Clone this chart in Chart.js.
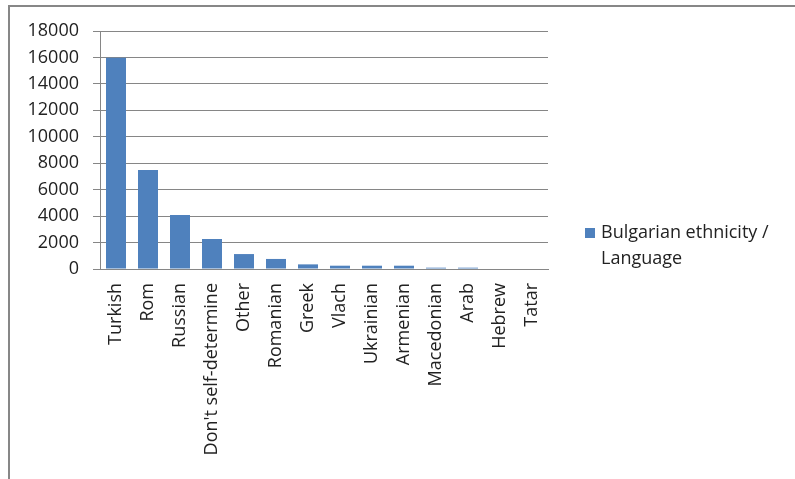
<!DOCTYPE html>
<html>
<head>
<meta charset="utf-8">
<script src="https://cdn.jsdelivr.net/npm/chart.js@4"></script>
<style>
  body { margin: 0; background: #fff; }
  #wrap { position: relative; width: 795px; height: 479px; }
  #frame { position: absolute; left: 8px; top: 5px; right: 0; bottom: 0;
           border-top: 2px solid #878787; border-left: 2px solid #878787; }
  canvas { position: absolute; left: 0; top: 0; }
</style>
</head>
<body>
<div id="wrap">
  <div id="frame"></div>
  <canvas id="myChart" width="795" height="479"></canvas>
</div>
<script>
// chart data
var categories = ['Turkish', 'Rom', 'Russian', "Don't self-determine", 'Other', 'Romanian',
    'Greek', 'Vlach', 'Ukrainian', 'Armenian', 'Macedonian', 'Arab', 'Hebrew', 'Tatar'];
var values = [15980, 7490, 4090, 2270, 1130, 760, 350, 250, 250, 250, 100, 100, 0, 0];
var yTicks = [0, 2000, 4000, 6000, 8000, 10000, 12000, 14000, 16000, 18000];
var seriesName = ['Bulgarian ethnicity /', 'Language'];

var fontFamily = '"Open Sans", sans-serif';

// legend drawn by hand so the label can wrap on two lines
var legendPlugin = {
    id: 'sideLegend',
    afterDraw: function(chart) {
        var ctx = chart.ctx;
        ctx.save();
        ctx.fillStyle = '#4F81BD';
        ctx.fillRect(585, 228, 10, 10);
        ctx.fillStyle = '#222';
        ctx.font = '18px ' + fontFamily;
        ctx.textBaseline = 'middle';
        ctx.fillText(seriesName[0], 601, 233);
        ctx.fillText(seriesName[1], 601, 259);
        ctx.restore();
    }
};

var ctx = document.getElementById('myChart').getContext('2d');
var myChart = new Chart(ctx, {
    type: 'bar',
    data: {
        labels: categories,
        datasets: [{
            label: seriesName.join(' '),
            data: values,
            backgroundColor: '#4F81BD',
            borderWidth: 0,
            barPercentage: 0.625,
            categoryPercentage: 1
        }]
    },
    options: {
        responsive: false,
        animation: false,
        layout: { padding: { left: 0, right: 247, top: 31, bottom: 0 } },
        plugins: {
            legend: { display: false },
            tooltip: { enabled: false }
        },
        scales: {
            x: {
                grid: { display: false },
                border: { color: '#868686', width: 1 },
                ticks: {
                    color: '#222',
                    font: { family: fontFamily, size: 18 },
                    minRotation: 90,
                    maxRotation: 90,
                    autoSkip: false,
                    padding: 6
                },
                afterFit: function(scale) { scale.height = 210; }
            },
            y: {
                min: 0,
                max: 18000,
                afterBuildTicks: function(scale) {
                    scale.ticks = yTicks.map(function(v) { return { value: v }; });
                },
                grid: { color: '#868686', tickLength: 7, tickColor: '#868686' },
                border: { color: '#868686', width: 1 },
                ticks: {
                    color: '#222',
                    font: { family: fontFamily, size: 18 },
                    padding: 14,
                    callback: function(v) { return String(v); }
                },
                afterFit: function(scale) { scale.width = 100; }
            }
        }
    },
    plugins: [legendPlugin]
});
</script>
</body>
</html>
